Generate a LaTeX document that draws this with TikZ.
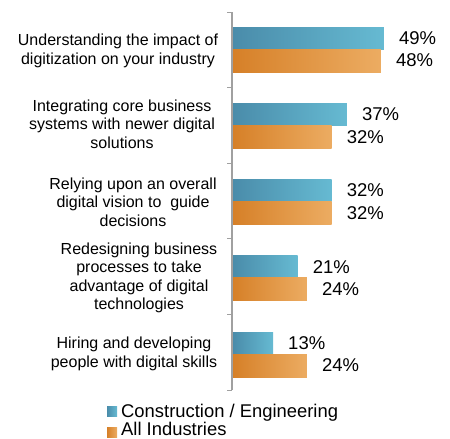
\documentclass[tikz,border=0pt]{standalone}
\usepackage{fontspec}
\setmainfont{Liberation Sans}
\usetikzlibrary{positioning}
\definecolor{ceblueL}{RGB}{74,140,170}
\definecolor{ceblueR}{RGB}{102,186,210}
\definecolor{allorangeL}{RGB}{214,128,40}
\definecolor{allorangeR}{RGB}{236,172,98}
\definecolor{axisgray}{RGB}{160,160,160}

\begin{document}
\begin{tikzpicture}[x=1pt,y=-1pt,
    catlabel/.style={align=center,font=\fontsize{16}{18.5}\selectfont,inner sep=0pt},
    vallabel/.style={anchor=west,font=\fontsize{18.5}{20}\selectfont,inner sep=0pt},
    leglabel/.style={anchor=base west,font=\fontsize{18.4}{20}\selectfont,inner sep=0pt},
    cebar/.style={left color=ceblueL,right color=ceblueR},
    allbar/.style={left color=allorangeL,right color=allorangeR}]
  \useasboundingbox (0,0) rectangle (450,439);

  % axis and ticks
  \draw[axisgray, line width=2pt] (232,12) -- (232,390);
  \foreach \k in {0,...,5}
    \draw[axisgray, line width=1pt] (227,{12+75.6*\k}) -- (232,{12+75.6*\k});

  % bars and values
  \foreach \i/\ce/\all in {0/49/48,1/37/32,2/32/32,3/21/24,4/13/24} {
    \pgfmathsetmacro{\bartop}{27+76.25*\i}
    \shade[cebar] (233,\bartop) rectangle ({233+3.08*\ce},\bartop+22);
    \shade[allbar] (233,\bartop+22) rectangle ({233+3.08*\all},\bartop+45);
    \node[vallabel] (ce-\i) at ({233+3.08*\ce+15},\bartop+11) {\ce\%};
    \node[vallabel] (all-\i) at ({233+3.08*\all+15},\bartop+33.5) {\all\%};
  }

  % categories
  \node[catlabel] (cat-0) at (118,51) {Understanding the impact of\\digitization on your industry};
  \node[catlabel] (cat-1) at (122,124) {Integrating core business\\systems with newer digital\\solutions};
  \node[catlabel] (cat-2) at (133,202) {Relying upon an overall\\digital vision to~ guide\\decisions};
  \node[catlabel] (cat-3) at (139,278) {Redesigning business\\processes to take\\advantage of digital\\technologies};
  \node[catlabel] (cat-4) at (134,354) {Hiring and developing\\people with digital skills};

  % legend
  \shade[cebar] (107,406) rectangle (117,416);
  \node[leglabel] (leg-ce) at (121,417) {Construction / Engineering};
  \shade[allbar] (107,427) rectangle (117,437);
  \node[leglabel] (leg-all) at (121,435.5) {All Industries};
\end{tikzpicture}
\end{document}
